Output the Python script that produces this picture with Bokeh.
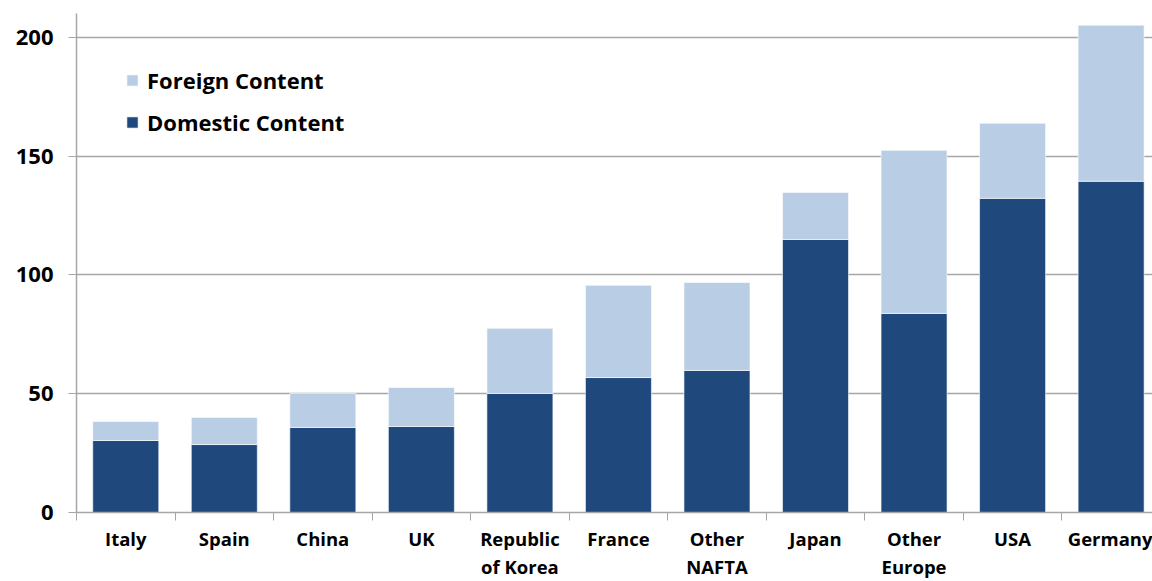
from bokeh.plotting import figure
from bokeh.models import ColumnDataSource, FixedTicker, Range1d, Legend, LegendItem
from bokeh.embed import file_html
from bokeh.resources import INLINE

categories = ["Italy", "Spain", "China", "UK", "Republic\nof Korea", "France",
              "Other\nNAFTA", "Japan", "Other\nEurope", "USA", "Germany"]
domestic = [30.3, 28.6, 35.8, 36.2, 50.1, 56.8, 59.8, 114.9, 83.8, 132.2, 139.4]
foreign = [8.0, 11.4, 14.3, 16.4, 27.4, 38.8, 37.0, 19.8, 68.6, 31.6, 65.7]
y_ticks = [0, 50, 100, 150, 200]

FONT = "Open Sans"
DOM_COLOR = "#1f497d"
FOR_COLOR = "#b9cde5"
GRID = "#a6a6a6"

xs = list(range(len(categories)))
src = ColumnDataSource(dict(x=xs, domestic=domestic, foreign=foreign))

p = figure(width=1152, height=581, output_backend="svg", toolbar_location=None,
           x_range=Range1d(-0.5, 10.42), y_range=Range1d(0, 210),
           min_border_left=76, min_border_right=0, min_border_top=13, min_border_bottom=69)
p.outline_line_color = None
p.background_fill_color = "white"

rs = p.vbar_stack(["domestic", "foreign"], x="x", width=0.67, source=src,
                  fill_color=[DOM_COLOR, FOR_COLOR], line_color="white",
                  line_alpha=0.6, line_width=1)

legend = Legend(items=[LegendItem(label="Foreign Content", renderers=[rs[1]]),
                       LegendItem(label="Domestic Content", renderers=[rs[0]])],
                location=(49, 375))
legend.border_line_color = None
legend.background_fill_alpha = 0
legend.margin = 0
legend.padding = 0
legend.glyph_width = 14
legend.glyph_height = 14
legend.label_standoff = 8
legend.spacing = 12
legend.label_text_font = FONT
legend.label_text_font_style = "bold"
legend.label_text_font_size = "22px"
legend.label_text_color = "black"
p.add_layout(legend)

# x axis
p.xaxis.ticker = FixedTicker(ticks=xs, minor_ticks=[i - 0.5 for i in range(len(categories) + 1)])
p.xaxis.major_label_overrides = {i: c for i, c in enumerate(categories)}
p.xaxis.major_tick_out = 0
p.xaxis.major_tick_in = 0
p.xaxis.minor_tick_out = 8
p.xaxis.minor_tick_in = 0
p.xaxis.minor_tick_line_color = GRID
p.xaxis.axis_line_color = GRID
p.xaxis.axis_line_width = 1.5
p.xaxis.major_label_text_font = FONT
p.xaxis.major_label_text_font_style = "bold"
p.xaxis.major_label_text_font_size = "18.5px"
p.xaxis.major_label_text_color = "black"
p.xaxis.major_label_standoff = 5
p.xaxis.major_label_text_line_height = 1.12

# y axis
p.yaxis.ticker = FixedTicker(ticks=y_ticks, minor_ticks=[])
p.yaxis.major_tick_out = 8
p.yaxis.major_tick_in = 0
p.yaxis.major_tick_line_color = GRID
p.yaxis.axis_line_color = GRID
p.yaxis.axis_line_width = 1.5
p.yaxis.major_label_text_font = FONT
p.yaxis.major_label_text_font_style = "bold"
p.yaxis.major_label_text_font_size = "22px"
p.yaxis.major_label_text_color = "black"
p.yaxis.major_label_standoff = 15

p.xgrid.grid_line_color = None
p.ygrid.grid_line_color = GRID
p.ygrid.grid_line_width = 1.5

open("out.html", "w").write(file_html(p, INLINE))
